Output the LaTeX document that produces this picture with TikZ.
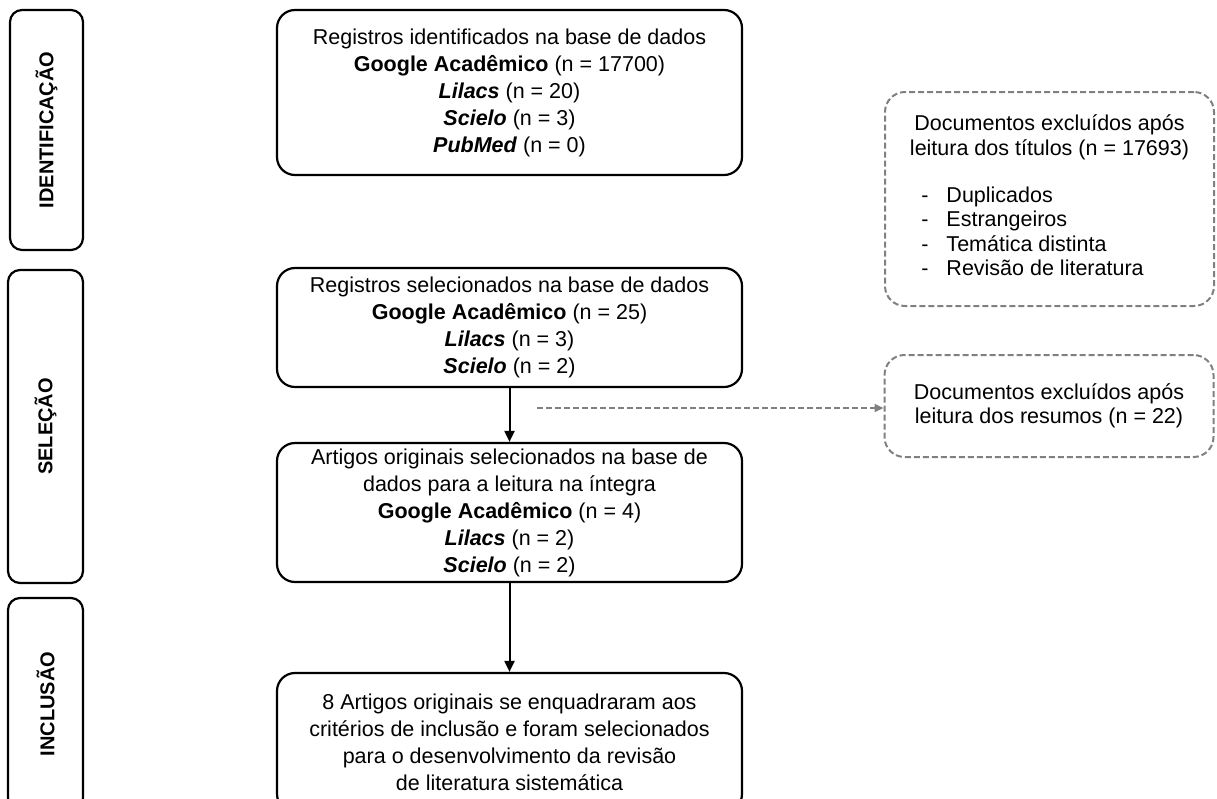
\documentclass[tikz,border=0pt]{standalone}
\usepackage{fontspec}
\setmainfont{Liberation Sans}
\usepackage{xcolor}
\usetikzlibrary{arrows.meta}
\definecolor{exgray}{RGB}{128,128,128}

\begin{document}
\begin{tikzpicture}[x=1pt,y=-1pt]
\tikzstyle{every node}=[font=\fontsize{21.5}{27}\selectfont]
\tikzstyle{phase}=[draw, line width=2.2pt, rounded corners=12pt, rotate=90, font=\fontsize{20}{24}\selectfont\bfseries]
\tikzstyle{stage}=[draw, line width=2.2pt, rounded corners=18pt, align=center, minimum width=465pt, inner sep=0pt]
\tikzstyle{excluded}=[draw=exgray, line width=2pt, dash pattern=on 6pt off 3pt, rounded corners=20pt, align=center, minimum width=329pt, inner sep=0pt, font=\fontsize{21.5}{24.5}\selectfont]
\tikzstyle{flow}=[line width=2pt, -{Triangle[length=11pt,width=10pt]}]
\tikzstyle{skip}=[exgray, line width=2pt, dash pattern=on 6pt off 3pt, -{Triangle[length=9pt,width=8pt]}]
\useasboundingbox (0,0) rectangle (1217,798);
% phases
\node [phase, minimum width=240pt, minimum height=73pt] (ident) at (46.5,130) {IDENTIFICAÇÃO};
\node [phase, minimum width=313pt, minimum height=75pt] (selec) at (45.5,426.5) {SELEÇÃO};
\node [phase, minimum width=212pt, minimum height=75pt] (inclu) at (45.5,704) {INCLUSÃO};
% flow
\node [stage, minimum height=165pt] (regid) at (509.5,92.5) {Registros identificados na base de dados\\
\textbf{Google Acadêmico} (n = 17700)\\
\textbf{\textit{Lilacs}} (n = 20)\\
\textbf{\textit{Scielo}} (n = 3)\\
\textbf{\textit{PubMed}} (n = 0)};
\node [stage, minimum height=119pt] (regsel) at (509.5,327.5) {Registros selecionados na base de dados\\
\textbf{Google Acadêmico} (n = 25)\\
\textbf{\textit{Lilacs}} (n = 3)\\
\textbf{\textit{Scielo}} (n = 2)};
\node [stage, minimum height=139pt] (artsel) at (509.5,512.5) {Artigos originais selecionados na base de\\
dados para a leitura na íntegra\\
\textbf{Google Acadêmico} (n = 4)\\
\textbf{\textit{Lilacs}} (n = 2)\\
\textbf{\textit{Scielo}} (n = 2)};
\node [stage, minimum height=139pt] (final) at (509.5,742.5) {8 Artigos originais se enquadraram aos\\
critérios de inclusão e foram selecionados\\
para o desenvolvimento da revisão\\
de literatura sistemática};
% exclusions
\node [excluded, minimum height=214pt] (exctit) at (1049.5,199) {Documentos excluídos após\\
leitura dos títulos (n = 17693)\\[24.5pt]
\begin{tabular}{@{}l@{\hspace{18pt}}l@{}}
-&Duplicados\\
-&Estrangeiros\\
-&Temática distinta\\
-&Revisão de literatura
\end{tabular}\hspace*{34pt}};
\node [excluded, minimum height=102pt] (excres) at (1049,406) {Documentos excluídos após\\
leitura dos resumos (n = 22)};
% arrows
\draw [flow] (regsel) -- (artsel);
\draw [flow] (artsel) -- (final);
\coordinate (skipstart) at (537,408);
\draw [skip] (skipstart) -- (skipstart -| excres.west);
\end{tikzpicture}
\end{document}
